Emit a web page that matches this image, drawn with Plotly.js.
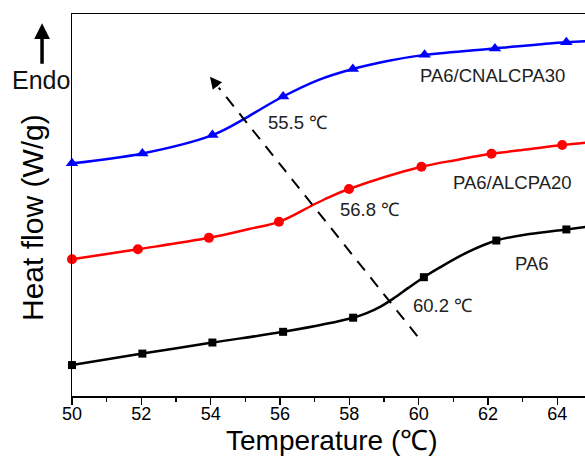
<!DOCTYPE html>
<html>
<head>
<meta charset="utf-8">
<script src="https://cdn.plot.ly/plotly-3.0.1.min.js"></script>
<style>
html,body{margin:0;padding:0;overflow:hidden;background:#fff;}
#chart{width:600px;height:457px;}
</style>
</head>
<body>
<div id="chart"></div>
<script>
// Marker points (Temperature °C, heat flow, arbitrary units)
const pa6X = [50, 52.03, 54.05, 56.09, 58.11, 60.15, 62.24, 64.26];
const pa6Y = [8.1, 11.1, 14.0, 16.8, 20.5, 31.1, 40.7, 43.6];
const alX = [50, 51.9, 53.95, 55.97, 57.99, 60.08, 62.1, 64.14];
const alY = [35.8, 38.4, 41.4, 45.6, 54.2, 60.0, 63.4, 65.7];
const cnX = [50, 52.03, 54.05, 56.09, 58.1, 60.17, 62.2, 64.26];
const cnY = [60.9, 63.5, 68.3, 78.4, 85.6, 89.3, 91.0, 92.6];

// Continuous curves (marker points plus points read between them)
const pa6CurveX = [50, 52.03, 54.05, 56.09, 58.11, 58.5, 58.9, 59.3, 59.7, 60.15, 60.6, 61.4, 62.24, 63.2, 64.26, 65];
const pa6CurveY = [8.1, 11.1, 14.0, 16.8, 20.5, 21.7, 23.4, 25.7, 28.3, 31.1, 33.6, 37.6, 40.7, 42.4, 43.6, 44.5];
const alCurveX = [50, 51.9, 53.95, 55.1, 55.97, 56.95, 57.5, 57.99, 60.08, 61.1, 62.1, 63.1, 64.14, 65];
const alCurveY = [35.8, 38.4, 41.4, 43.7, 45.6, 50.0, 52.4, 54.2, 60.0, 61.8, 63.4, 64.5, 65.7, 66.5];
const cnCurveX = [50, 52.03, 54.05, 54.94, 55.5, 56.09, 57.1, 58.1, 59.1, 60.17, 62.2, 64.26, 65];
const cnCurveY = [60.9, 63.5, 68.3, 72.4, 75.4, 78.4, 82.7, 85.6, 87.7, 89.3, 91.0, 92.6, 92.9];

const tickVals = [50, 52, 54, 56, 58, 60, 62, 64];
const tickText = ['50', '52', '54', '56', '58', '60', '62', '64'];

// Dashed trend arrow (tail -> head)
const trendX = [59.96, 53.98];
const trendY = [15.7, 83.6];

const FONT = 'Arial, "Liberation Sans", sans-serif';

function lineTrace(x, y, color) {
  return {x: x, y: y, mode: 'lines', type: 'scatter',
    line: {color: color, width: 2.5, shape: 'spline', smoothing: 1},
    hoverinfo: 'skip', showlegend: false};
}
function markTrace(x, y, color, symbol, size) {
  return {x: x, y: y, mode: 'markers', type: 'scatter',
    marker: {color: color, symbol: symbol, size: size, line: {width: 0}},
    showlegend: false, cliponaxis: false};
}

const data = [
  lineTrace(pa6CurveX, pa6CurveY, '#000000'),
  markTrace(pa6X, pa6Y, '#000000', 'square', 8),
  lineTrace(alCurveX, alCurveY, '#ff0000'),
  markTrace(alX, alY, '#ff0000', 'circle', 10),
  lineTrace(cnCurveX, cnCurveY, '#0000ff'),
  markTrace(cnX, cnY, '#0000ff', 'triangle-up', 11)
];

const hx = trendX[1], hy = trendY[1];
const backX = hx + (trendX[0] - trendX[1]) * 0.042;
const backY = hy + (trendY[0] - trendY[1]) * 0.042;

const annFont = {family: FONT, size: 18.5, color: '#222'};
function label(x, y, text) {
  return {x: x, y: y, text: text, showarrow: false, font: annFont, xanchor: 'center', yanchor: 'middle'};
}

const layout = {
  width: 600, height: 457,
  margin: {l: 72, r: 7.5, t: 14, b: 61},
  paper_bgcolor: '#fff', plot_bgcolor: '#fff',
  font: {family: FONT, color: '#000'},
  showlegend: false,
  xaxis: {
    range: [50, 65], tickmode: 'array', tickvals: tickVals, ticktext: tickText,
    ticks: 'outside', ticklen: 7, tickwidth: 1.5, tickcolor: '#000',
    ticklabelstandoff: -6,
    minor: {dtick: 1, tick0: 50, ticks: 'outside', ticklen: 4, tickwidth: 1.5, tickcolor: '#000'},
    showline: true, linewidth: 1.5, linecolor: '#000', mirror: true,
    showgrid: false, zeroline: false,
    tickfont: {family: FONT, size: 18, color: '#000'}
  },
  yaxis: {
    range: [0, 100], showticklabels: false, ticks: '',
    showline: true, linewidth: 1.5, linecolor: '#000', mirror: true,
    showgrid: false, zeroline: false
  },
  shapes: [{
    type: 'line', xref: 'x', yref: 'y',
    x0: trendX[0], y0: trendY[0], x1: backX, y1: backY,
    line: {color: '#000', width: 2, dash: '12px,9px'}
  }],
  annotations: [
    {x: hx, y: hy, ax: backX, ay: backY, axref: 'x', ayref: 'y', xref: 'x', yref: 'y',
     text: '', showarrow: true, arrowhead: 2, arrowsize: 1.2, arrowwidth: 2, arrowcolor: '#000'},
    {xref: 'paper', yref: 'paper', x: 0.5, y: -0.1597, text: 'Temperature (℃)',
     showarrow: false, font: {family: FONT, size: 28, color: '#000'}, xanchor: 'center', yanchor: 'bottom', borderpad: 0},
    {xref: 'paper', yref: 'paper', x: -0.075, y: 0.466, text: 'Heat flow (W/g)', textangle: -90,
     showarrow: false, font: {family: FONT, size: 30, color: '#000'}, xanchor: 'center', yanchor: 'middle'},
    {xref: 'paper', yref: 'paper', x: -0.0576, y: 0.976, ax: 0, ay: 42, text: '', showarrow: true,
     arrowhead: 2, arrowsize: 0.9, arrowwidth: 3.5, arrowcolor: '#000'},
    {xref: 'paper', yref: 'paper', x: -0.0595, y: 0.827, text: 'Endo', showarrow: false,
     font: {family: FONT, size: 25, color: '#111'}, xanchor: 'center', yanchor: 'middle'},
    label(62.13, 83.9, 'PA6/CNALCPA30'),
    label(56.5, 71.7, '55.5 ℃'),
    label(62.72, 56.0, 'PA6/ALCPA20'),
    label(58.59, 48.7, '56.8 ℃'),
    label(63.27, 34.8, 'PA6'),
    label(60.68, 23.8, '60.2 ℃')
  ]
};

Plotly.newPlot('chart', data, layout, {displayModeBar: false, staticPlot: true});
</script>
</body>
</html>
